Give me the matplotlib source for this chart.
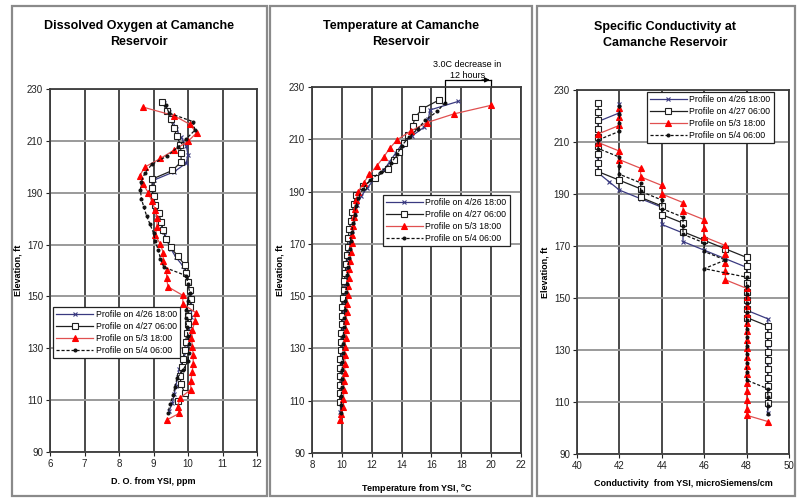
import matplotlib
matplotlib.use("Agg")
import matplotlib.pyplot as plt
from matplotlib.patches import Rectangle

plt.rcParams["font.family"] = ["Liberation Sans", "DejaVu Sans"]

# ---- data ----
LABELS = ["Profile on 4/26 18:00", "Profile on 4/27 06:00",
          "Profile on 5/3 18:00", "Profile on 5/4 06:00"]

ELEV_P1 = [224.5, 221.2, 217.9, 214.6, 211.3, 208.0, 204.7, 201.4, 198.1, 194.8,
           191.5, 188.2, 184.9, 181.6, 178.3, 175.0, 171.7, 168.4, 165.1, 161.8,
           158.5, 155.2, 151.9, 148.6, 145.3, 142.0, 138.7, 135.4, 132.1, 128.8,
           125.5, 122.2, 118.9, 115.6, 112.3, 109.0, 105.7]
ELEV_P2 = [225.0, 221.7, 218.4, 215.1, 211.8, 208.5, 205.2, 201.9, 198.6, 195.3,
           192.0, 188.7, 185.4, 182.1, 178.8, 175.5, 172.2, 168.9, 165.6, 162.3,
           159.0, 155.7, 152.4, 149.1, 145.8, 142.5, 139.2, 135.9, 132.6, 129.3,
           126.0, 122.7, 119.4, 116.1, 112.8, 109.5]
ELEV_P3 = [223.0, 219.7, 216.4, 213.1, 209.8, 206.5, 203.2, 199.9, 196.6, 193.3,
           190.0, 186.7, 183.4, 180.1, 176.8, 173.5, 170.2, 166.9, 163.6, 160.3,
           157.0, 153.7, 150.4, 147.1, 143.8, 140.5, 137.2, 133.9, 130.6, 127.3,
           124.0, 120.7, 117.4, 114.1, 110.8, 107.5, 104.9, 102.5]
ELEV_P4 = [224.0, 220.7, 217.4, 214.1, 210.8, 207.5, 204.2, 200.9, 197.6, 194.3,
           191.0, 187.7, 184.4, 181.1, 177.8, 174.5, 171.2, 167.9, 164.6, 161.3,
           158.0, 154.7, 151.4, 148.1, 144.8, 141.5, 138.2, 134.9, 131.6, 128.3,
           125.0, 121.7, 118.4, 115.1, 111.8, 108.5, 105.2]

DO_P1 = [9.3, 9.45, 9.55, 9.65, 9.8, 9.95, 10.0, 9.95, 9.6, 9.0,
         8.95, 9.0, 9.05, 9.1, 9.2, 9.3, 9.4, 9.5, 9.65, 9.85,
         9.95, 10.0, 10.05, 10.1, 10.1, 10.1, 10.05, 10.05, 10.0, 9.95,
         9.85, 9.75, 9.7, 9.65, 9.6, 9.55, 9.45]
DO_P2 = [9.25, 9.38, 9.5, 9.58, 9.68, 9.78, 9.8, 9.8, 9.55, 8.97,
         8.95, 9.0, 9.05, 9.15, 9.22, 9.28, 9.35, 9.5, 9.7, 9.9,
         9.95, 10.0, 10.05, 10.1, 10.05, 10.0, 10.0, 9.97, 9.93, 9.9,
         9.86, 9.82, 9.77, 9.8, 9.9, 9.72]
DO_P3 = [8.7, 9.6, 10.05, 10.25, 10.0, 9.6, 9.2, 8.75, 8.6, 8.7,
         8.85, 8.95, 9.05, 9.1, 9.1, 9.05, 9.2, 9.28, 9.28, 9.38,
         9.38, 9.42, 9.85, 9.85, 10.22, 10.2, 10.13, 10.1, 10.13, 10.15,
         10.15, 10.12, 10.08, 10.08, 9.77, 9.7, 9.75, 9.4]
DO_P4 = [9.35, 9.45, 10.15, 10.2, 9.95, 9.7, 9.4, 8.95, 8.75, 8.65,
         8.62, 8.65, 8.72, 8.8, 8.9, 9.0, 9.05, 9.14, 9.2, 9.3,
         9.95, 10.0, 10.05, 10.0, 9.95, 9.93, 9.96, 10.0, 10.04, 10.02,
         10.0, 9.86, 9.68, 9.62, 9.57, 9.48, 9.42]

TEMP_P1 = [17.8, 15.9, 15.8, 15.5, 14.7, 14.0, 13.6, 13.2, 12.8, 12.2,
           11.7, 11.3, 11.0, 10.85, 10.75, 10.65, 10.55, 10.45, 10.4, 10.35,
           10.3, 10.25, 10.2, 10.15, 10.1, 10.08, 10.05, 10.02, 10.0, 10.0,
           9.98, 9.97, 9.95, 9.95, 9.93, 9.92, 9.9]
TEMP_P2 = [16.5, 15.4, 14.9, 14.75, 14.45, 14.15, 13.8, 13.5, 13.1, 12.2,
           11.4, 10.95, 10.8, 10.7, 10.6, 10.5, 10.42, 10.38, 10.33, 10.28,
           10.22, 10.17, 10.12, 10.08, 10.04, 10.0, 9.98, 9.96, 9.94, 9.92,
           9.9, 9.9, 9.88, 9.87, 9.86, 9.85]
TEMP_P3 = [20.0, 17.5, 15.7, 14.6, 13.7, 13.2, 12.8, 12.35, 11.85, 11.45,
           11.1, 10.95, 10.85, 10.8, 10.75, 10.7, 10.65, 10.6, 10.55, 10.5,
           10.45, 10.4, 10.38, 10.35, 10.32, 10.3, 10.28, 10.25, 10.22, 10.2,
           10.2, 10.18, 10.15, 10.12, 10.1, 10.05, 9.95, 9.9]
TEMP_P4 = [16.9, 16.4, 15.6, 15.1, 14.5, 14.0, 13.7, 13.3, 12.6, 11.9,
           11.4, 11.1, 10.95, 10.85, 10.75, 10.65, 10.58, 10.52, 10.47, 10.42,
           10.37, 10.32, 10.28, 10.24, 10.2, 10.16, 10.13, 10.1, 10.08, 10.06,
           10.04, 10.02, 10.0, 9.98, 9.97, 9.96, 9.95]

COND_P1 = [42, 42, 41, 41, 41, 41, 41, 41, 41, 41.5,
           42, 43, 44, 44, 44, 45, 45, 46, 47, 48,
           48, 48, 48, 48, 48, 49, 49, 49, 49, 49,
           49, 49, 49, 49, 49, 49, 49]
COND_P2 = [41, 41, 41, 41, 41, 41, 41, 41, 41, 42,
           43, 43, 44, 44, 45, 45, 46, 47, 48, 48,
           48, 48, 48, 48, 48, 48, 49, 49, 49, 49,
           49, 49, 49, 49, 49, 49]
COND_P3 = [42, 42, 42, 41, 41, 42, 42, 43, 43, 44,
           44, 45, 45, 46, 46, 46, 47, 47, 47, 47,
           47, 48, 48, 48, 48, 48, 48, 48, 48, 48,
           48, 48, 48, 48, 48, 48, 48, 49]
COND_P4 = [42, 42, 42, 42, 41, 41, 42, 42, 42, 43,
           43, 44, 44, 45, 45, 45, 46, 46, 47, 46,
           48, 48, 48, 48, 48, 48, 48, 48, 48, 48,
           48, 48, 48, 49, 49, 49, 49]

ELEVS = [ELEV_P1, ELEV_P2, ELEV_P3, ELEV_P4]

# series styles: line colour, linestyle, marker, marker face, marker edge, size
STYLES = [
    dict(color="#3a3a80", ls="-", marker="x", mfc="#3a3a80", mec="#3a3a80", ms=3.3, lw=0.9),
    dict(color="#202020", ls="-", marker="s", mfc="white", mec="#202020", ms=3.9, lw=0.9),
    dict(color="#e05050", ls="-", marker="^", mfc="#ff0000", mec="#ff0000", ms=4.0, lw=0.9),
    dict(color="#101010", ls=(0, (2.5, 1.5)), marker="o", mfc="#101010", mec="#101010", ms=2.1, lw=0.9),
]

W, H = 799, 499
fig = plt.figure(figsize=(W / 100, H / 100), dpi=100)
fig.patch.set_facecolor("white")

# panel frames
for x0, x1 in [(12, 267), (270, 532), (537, 795)]:
    fig.patches.append(Rectangle((x0 / W, 3 / H), (x1 - x0) / W, (H - 9) / H,
                                 transform=fig.transFigure, fill=False,
                                 edgecolor="#8a8a8a", linewidth=1.6))


def px_axes(left, right, top, bottom):
    return fig.add_axes([left / W, (H - bottom) / H, (right - left) / W, (bottom - top) / H])


def style_axes(ax, xlim, xticks, xlabel, xpad):
    ax.set_xlim(*xlim)
    ax.set_ylim(90, 230)
    ax.set_xticks(xticks)
    ax.set_yticks(range(90, 231, 20))
    ax.tick_params(labelsize=7, colors="#222222", length=3, width=0.8, pad=2)
    for lab in ax.get_xticklabels() + ax.get_yticklabels():
        lab.set_color("#222222")
    ax.xaxis.grid(True, color="#3c3c3c", linewidth=1.3)
    ax.yaxis.grid(True, color="#9a9a9a", linewidth=1.4)
    ax.set_axisbelow(True)
    for sp in ax.spines.values():
        sp.set_color("#3c3c3c")
        sp.set_linewidth(1.3)
    ax.set_ylabel("Elevation, ft", fontsize=6.5, fontweight="bold", labelpad=3)
    ax.set_xlabel(xlabel, fontsize=6.5, fontweight="bold", labelpad=xpad)


def draw_series(ax, values):
    for elev, vals, lab, st in zip(ELEVS, values, LABELS, STYLES):
        ax.plot(vals, elev, label=lab, color=st["color"], linestyle=st["ls"],
                linewidth=st["lw"], marker=st["marker"], markersize=st["ms"],
                markerfacecolor=st["mfc"], markeredgecolor=st["mec"],
                markeredgewidth=0.8)


def add_legend(ax, bbox):
    leg = ax.legend(loc="upper left", bbox_to_anchor=bbox, fontsize=6.3,
                    frameon=True, fancybox=False, framealpha=1, edgecolor="#222222",
                    handlelength=4.2, handletextpad=0.3, borderpad=0.35,
                    labelspacing=0.35, borderaxespad=0)
    leg.get_frame().set_linewidth(0.9)


# panel 1: dissolved oxygen
ax1 = px_axes(50, 257, 89, 452)
draw_series(ax1, [DO_P1, DO_P2, DO_P3, DO_P4])
style_axes(ax1, (6, 12), range(6, 13), "D. O. from YSI, ppm", 6)
add_legend(ax1, (0.015, 0.40))
fig.text(139 / W, 1 - 34 / H, "Dissolved Oxygen at Camanche\nReservoir",
         ha="center", va="center", fontsize=9, fontweight="bold", linespacing=1.35)

# panel 2: temperature
ax2 = px_axes(312, 521, 87, 453)
draw_series(ax2, [TEMP_P1, TEMP_P2, TEMP_P3, TEMP_P4])
style_axes(ax2, (8, 22), range(8, 23, 2), "Temperature from YSI, $^{\\mathregular{o}}$C", 9)
add_legend(ax2, (0.34, 0.705))
fig.text(401 / W, 1 - 34 / H, "Temperature at Camanche\nReservoir",
         ha="center", va="center", fontsize=9, fontweight="bold", linespacing=1.35)
ax2.plot([16.9, 16.9, 20], [224, 232.7, 232.7], color="black", lw=0.9, clip_on=False)
ax2.plot([20, 20], [232.7, 230], color="black", lw=0.9, clip_on=False)
ax2.annotate("", xy=(20.1, 232.7), xytext=(19.2, 232.7),
             arrowprops=dict(arrowstyle="-|>", color="black", lw=0.9, mutation_scale=7),
             annotation_clip=False)
ax2.text(18.4, 236.5, "3.0C decrease in\n12 hours", ha="center", va="center",
         fontsize=6.5, linespacing=1.3)

# panel 3: conductivity
ax3 = px_axes(577, 789, 90, 454)
draw_series(ax3, [COND_P1, COND_P2, COND_P3, COND_P4])
style_axes(ax3, (40, 50), range(40, 51, 2), "Conductivity  from YSI, microSiemens/cm", 6)
add_legend(ax3, (0.33, 0.995))
fig.text(665 / W, 1 - 35 / H, "Specific Conductivity at\nCamanche Reservoir",
         ha="center", va="center", fontsize=9, fontweight="bold", linespacing=1.35)

fig.savefig("out.png", dpi=100, facecolor="white")
